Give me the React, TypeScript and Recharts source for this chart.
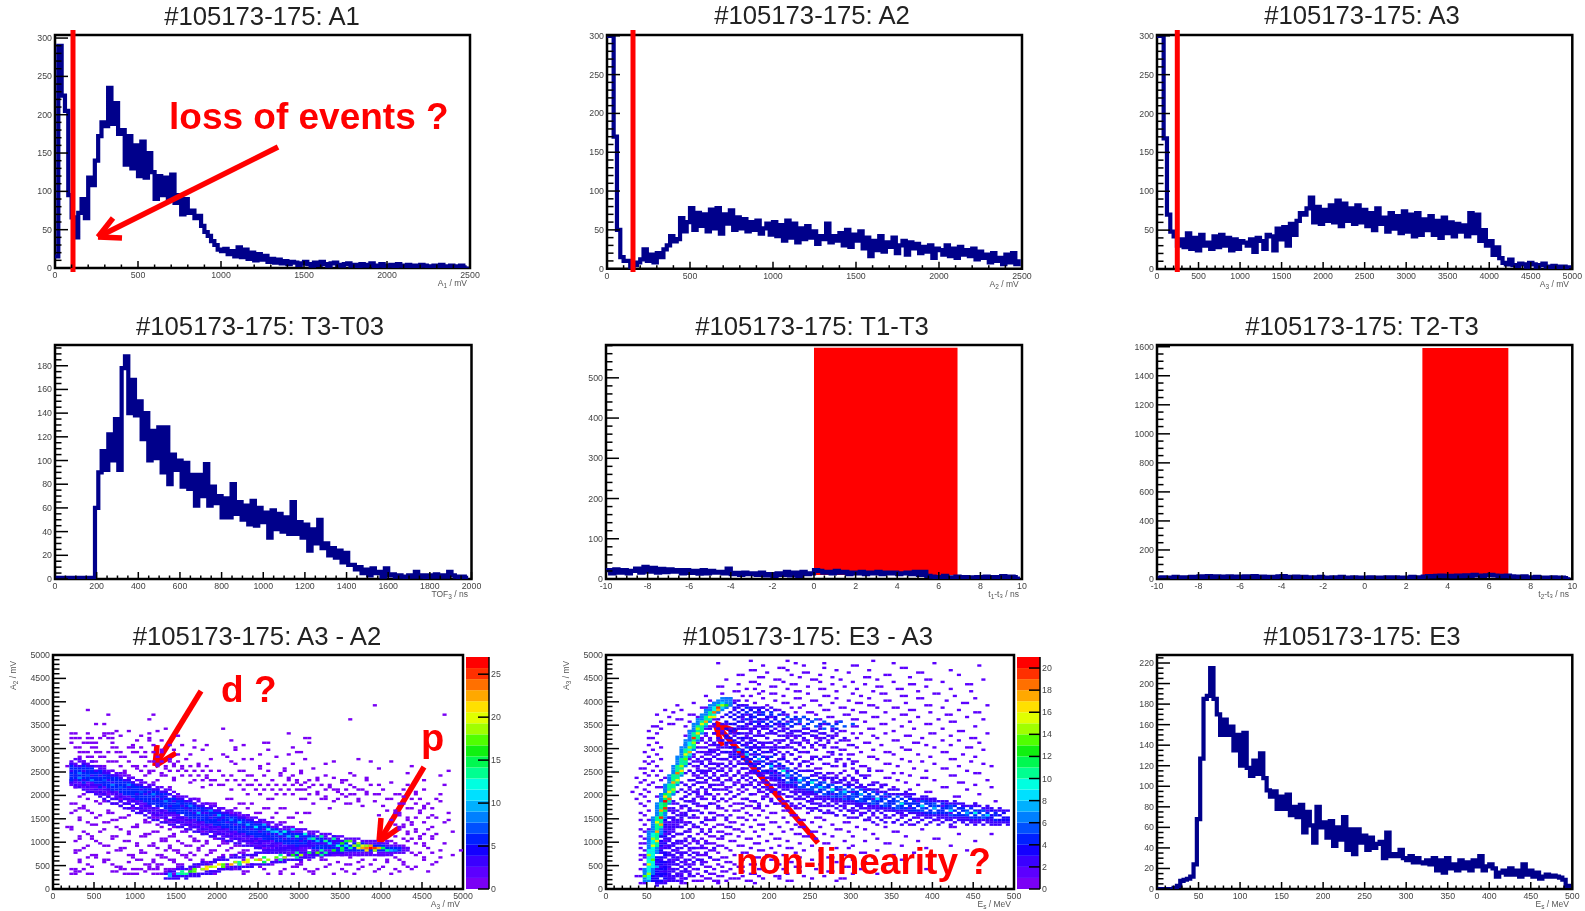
import React from 'react';
import { ComposedChart, Line, Scatter, XAxis, YAxis, ReferenceArea, ReferenceLine } from 'recharts';

// ---------- 1D histogram values ----------
const a1Counts = [15,290,225,205,95,66,40,72,90,65,118,108,140,172,190,185,235,188,215,175,180,135,172,130,160,120,165,118,150,125,90,120,95,118,90,122,85,95,70,90,72,75,65,68,55,47,42,35,30,24,22,25,18,22,15,27,14,24,12,20,10,18,11,16,8,12,7,11,6,9,5,8,7,4,6,8,5,3,7,4,8,5,3,6,7,4,3,5,6,3,4,2,5,3,4,6,2,3,5,2,3,4,2,5,3,1,4,2,3,1,4,3,2,1,3,2,4,1,2,3,1,2,3,1,2];
const a2Counts = [300,300,170,50,15,10,10,2,5,8,12,25,10,18,8,20,15,25,30,42,35,38,65,48,60,78,50,72,55,70,48,76,52,78,45,70,58,75,50,66,52,64,48,60,50,62,45,52,58,44,60,42,56,36,62,40,58,34,52,38,55,40,48,32,42,38,58,34,42,36,46,30,50,28,44,36,48,26,40,16,36,24,42,22,34,28,40,20,30,36,18,34,26,32,20,28,22,30,14,26,24,18,30,16,26,14,28,18,24,16,26,12,22,14,18,8,20,10,14,6,18,8,20,6,12];
const a3Counts = [300,300,168,70,48,42,30,38,28,46,26,40,24,44,30,34,26,42,28,44,30,40,24,38,26,36,34,30,38,22,40,36,26,44,42,24,52,38,54,30,58,44,62,72,70,78,92,60,80,58,76,62,82,60,88,55,84,62,78,58,82,60,76,55,72,50,78,58,66,48,72,52,68,46,74,48,70,42,72,44,64,50,68,44,62,40,66,46,60,42,58,48,56,42,72,46,70,36,50,30,36,18,28,14,8,6,12,5,4,7,6,3,8,6,3,5,7,3,2,4,3,1,3,2,1];
const t3Counts = [1,1,1,1,1,1,1,1,1,1,1,1,60,90,108,92,122,100,135,92,178,188,140,168,138,150,118,140,100,125,102,128,90,128,80,105,92,100,78,98,76,88,62,88,70,97,62,78,64,70,52,68,52,80,55,65,50,62,46,66,45,60,48,56,35,58,42,55,40,52,38,65,38,48,35,46,24,42,30,50,26,30,20,26,18,24,14,22,12,12,8,10,5,8,3,9,5,6,2,9,3,4,2,3,2,1,3,2,6,2,3,1,3,2,4,2,3,2,6,3,2,1,2,1,1];
const t1Counts = [22,14,24,16,22,14,20,26,16,30,18,28,16,25,17,24,18,22,14,22,15,20,13,22,14,20,16,18,14,26,12,15,10,16,12,14,10,16,9,12,8,14,10,18,9,16,8,18,12,14,22,20,16,18,14,20,16,18,12,16,14,18,12,16,14,18,12,16,14,16,12,14,16,12,18,10,18,8,6,3,5,8,4,3,6,4,5,3,4,5,3,6,4,5,3,7,4,6,5,6];
const t2Counts = [8,12,6,10,14,8,12,9,14,10,18,14,20,12,18,16,12,18,14,16,12,18,14,20,12,16,10,14,12,18,20,14,12,16,10,14,8,12,10,14,8,10,12,8,14,10,6,12,8,10,6,12,8,10,6,12,8,12,6,10,8,14,10,12,16,20,18,22,24,20,22,18,24,20,26,22,28,24,22,26,28,24,22,20,24,18,16,14,18,12,10,14,8,10,6,12,8,10,6,12];
const e3Counts = [0,0,0,0,0,1,3,8,9,10,12,24,68,127,185,188,215,185,170,150,165,150,158,135,150,120,152,118,110,125,112,132,108,96,90,95,78,90,78,92,72,80,70,82,55,75,62,45,80,60,65,50,66,42,60,48,70,38,58,34,58,45,52,38,50,40,44,46,30,55,32,34,32,38,30,28,32,26,30,26,25,28,24,30,18,28,16,30,20,24,18,28,20,26,18,28,22,32,18,22,24,20,12,16,18,14,20,14,18,12,24,14,18,12,16,10,12,14,12,13,12,11,9,3,1];

// ---------- A3 - A2 map. Sparse rows in 100 mV steps: [y step, x bins ...], one count in each cell ----------
const a3a2SparseRows: number[][] = [
 [39,78],[38,8],[37,13,24,95],[36,23,72],[35,10,12],[34,27,41],
 [33,4,5,8,12,13,14,23,57],[32,4,5,6,8,9,11,13,14,23,61,62],[31,4,7,8,9,10,14,51,52,62],
 [30,5,6,9,10,14,15,18,19,21,34,44,58],[29,6,7,8,10,11,13,15,16,19,20,22,24,26,59,60],
 [28,6,8,9,11,12,16,17,21,22,25,42,54],[27,7,9,10,13,14,15,18,23,24,26,28,30,43,68,77,82],
 [26,3,10,11,12,16,19,20,22,25,27,29,31,33,35,37,50,87],
 [25,11,14,17,21,23,24,28,30,32,34,36,38,40,45,46,52,56,60,96],
 [24,5,13,16,18,22,26,27,31,33,35,37,41,43,47,48,51,55,58,66,73,94],
 [23,4,25,29,34,36,38,39,42,44,46,49,53,57,59,62,64,70,71,76,90],
 [22,6,7,38,40,41,45,47,48,50,52,54,56,58,60,63,65,67,72,77,79,86,95],
 [21,43,46,49,51,53,55,57,59,60,61,66,68,69,71,74,75,80,85,90],
 [20,7,12,13,24,25,47,50,54,56,58,62,64,70,72,73,76,78,79,83,84,88,94],
 [19,8,16,17,27,34,35,42,43,52,53,60,61,65,66,69,74,81,82,87,89,93],
 [18,4,5,11,14,15,22,23,26,30,31,37,38,39,45,46,48,63,71,72,84,85,88,91],
 [17,6,7,18,19,20,28,32,33,36,40,41,44,47,51,52,55,56,67,86,87,90,92],
 [16,4,9,13,14,21,27,28,29,34,35,38,42,43,49,50,54,59,61,62,83,84,89,96],
 [15,6,10,16,17,24,25,30,31,37,40,41,45,46,47,53,57,58,86,88,91,93],
 [14,8,12,13,22,23,27,28,33,35,36,38,39,43,44,48,51,52,55,56,60,87,90,95],
 [13,3,4,15,19,20,26,29,30,34,37,41,42,47,49,50,54,58,84,85,92],
 [12,7,11,18,24,25,31,32,35,36,40,44,45,46,53,56,57,86,88,97],
 [11,6,9,14,15,21,22,28,29,33,38,39,43,51,52,55,61,62,83,89,92],
 [10,5,10,17,18,26,27,30,34,35,37,41,42,47,48,56,57,63,64,81,82,86],
 [9,8,12,13,20,23,24,28,32,33,36,40,44,45,49,50,53,54,59,66,67,71,78,85,90],
 [8,5,6,15,16,21,27,29,30,35,38,39,42,46,47,51,52,55,60,61,69,72,73,76,77,83,94,99],
 [7,9,10,18,19,25,26,31,32,34,37,41,43,44,48,49,57,58,63,64,68,70,74,79,80,88,97],
 [6,6,12,13,20,21,24,28,29,33,36,39,40,46,50,54,62,65,66,75,78,81,84,90],
 [5,8,14,22,23,25,26,30,31,35,37,38,42,45,47,48,53,59,60,67,71,72,77,85,92],
 [4,4,5,7,16,17,19,20,21,23,24,25,27,28,29,33,34,36,41,43,44,51,56,61,64,70,74,79,83,87],
 [3,4,5,8,9,17,18,19,20,24,25,26,27,28,29,30,31,39,46,52,55,58,63,68,73,82],
];
// the rows in between, in 50 mV bins: [y bin, x bins ...]
const a3a2SparseOdd: number[][] = [
 [7,5,6,14,15,22,27,28,33,38,39,46,47,55,62,63,71,78,84,91],[9,9,15,16,23,25,30,34,35,41,42,50,58,59,66,75,80,86,88],
 [11,6,12,18,24,29,36,37,44,53,54,60,69,74,81,85,93],[13,8,10,19,26,27,32,40,41,48,56,61,65,72,83,90,94],
 [15,5,13,21,22,30,33,38,45,46,52,64,77,82,87,89,92],[17,7,16,17,25,28,35,43,50,51,58,67,80,84,86,91],
 [19,11,20,24,31,37,41,42,48,55,62,79,83,88,90,95],[21,6,9,14,26,27,34,39,45,52,53,60,85,87,89,92],
 [23,8,18,22,23,29,36,44,47,49,56,86,90,93],[25,4,12,16,28,32,38,42,50,54,58,84,88,91],
 [27,9,10,20,25,33,35,40,46,52,83,85,87],[29,6,14,15,22,27,31,37,44,48,82,86,96],
 [31,11,18,24,30,34,41,45,47,79,84,92],[33,5,8,13,21,26,29,36,43,81,83,89],
 [35,7,16,19,23,28,33,39,75,80,90],[37,10,12,25,27,31,68,74,78,94],[39,6,15,20,26,30,66,71,85],
 [41,8,14,22,64,69,76,88],[43,5,11,18,28,36,62,67,73],[45,9,12,24,33,59,61,70,82],
 [47,13,19,29,37,57,64,68,76],[49,17,23,26,55,60,72,86],[51,20,27,31,50,56,63,79],
 [53,25,29,35,44,52,58,66],[55,28,32,38,46,48,61,74],[57,30,33,41,50,57],[59,26,29,36,44,52],
 [61,19,24,28,31,37,46],[63,20,23,26,34,43],[65,12,16,21,30],[67,15,18,25],
];
// [x bin, y bins ...] with about two counts: the fringe of the upper band
const a3a2Fringe: number[][] = [
 [4,44,45,53,54],[5,43,45,46,53,55],[6,44,45,52,54,55],[7,43,44,46,53,54],[8,42,44,45,52,53],[9,42,43,45,52,54],[10,41,43,44,50,52],[11,40,42,44,51,52],[12,40,41,43,49,51],[13,39,41,42,49,50],[14,38,40,41,48,50],[15,38,39,41,48,49],[16,37,39,40,47,49],[17,36,38,39,46,48],[18,36,37,39,46,47],[19,35,37,38,45,47],
 [20,34,36,37,44,46],[21,33,35,36,45,46],[22,33,34,36,43,45],[23,32,34,35,43,44],[24,31,33,34,42,44],[25,31,32,34,42,43],[26,30,32,33,41,43],[27,30,31,33,41,42],[28,29,31,32,40,42],[29,28,30,31,39,41],[30,28,29,31,38,40],[31,27,29,30,38,39],[32,27,28,30,37,39],[33,26,28,29,37,38],[34,26,27,29,36,38],[35,25,27,28,35,37],
 [36,25,26,28,35,36],[37,24,26,27,34,36],[38,24,25,27,34,35],[39,23,25,26,33,35],[40,23,24,26,33,34],[41,22,24,25,32,34],[42,22,23,25,32,33],[43,21,23,24,31,33],[44,21,22,24,31,32],[45,20,22,23,30,32],[46,20,21,23,30,31],[47,19,21,22,29,31],[48,19,20,22,29,30],[49,18,20,21,28,30],[50,18,19,21,28,29],[51,18,19,20,27,29],
 [52,17,19,20,27,28],[53,17,18,20,26,28],[54,16,18,19,26,27],[55,16,17,19,25,27],[56,16,17,18,25,26],[57,15,17,18,25,26],[58,15,16,18,24,25],[59,15,16,17,24,25],[60,14,16,17,24,25],[61,14,16,17,23,25],[62,14,15,17,23,24],[63,14,15,16,23,24],[64,14,15,16,22,24],[65,14,15,16,22,23],[66,14,15,16,22,23],[67,14,15,16,21,23],
 [68,14,15,21,22],[69,14,15,21,22],[70,14,15,20,22],[71,14,15,20,21],[72,14,15,20,21],[73,14,15,20,21],[74,14,15,19,21],[75,14,15,20],[76,14,15,19,20],[77,14,15,19,20],[78,14,19,20],[79,14,15,19],[80,14,15,19],[81,14,15,18,19],[82,14,15,18],[83,15,16,18],[84,15,18],[85,15,16,17],[86,16,17],
];
// [x bin, y bins ...] with about three counts: widening the band below and above the core
const a3a2Mid: number[][] = [
 [4,45,50,53],[5,44,46,52],[6,43,49,52],[7,42,44,46,50,53],[8,41,43,52],[9,41,44,48,52],[10,40,42,44,50],[11,39,41,44,48],[12,38,40,42,49,50],[13,37,39,42,46,49],[14,36,38,41,45,48],[15,36,38,40,48],[16,35,37,39,43,47],[17,34,36,38,46],[18,34,36,38,43,46],[19,33,35,37,45],
 [20,32,34,36,40,44],[21,32,34,37,42,44],[22,31,33,35,40,43],[23,30,33,35,41,43],[24,29,32,34,38,42],[25,29,31,33,39,42],[26,28,31,33,38,41],[27,28,30,32,39,41],[28,27,29,32,35,40],[29,27,29,32,37,39],[30,26,28,30,36,38],[31,26,28,30,35,38],[32,25,27,29,34,37],[33,25,27,29,33,37],[34,24,26,28,32,36],[35,24,26,28,33,35],
 [36,23,25,27,32,35],[37,23,25,27,32,34],[38,22,24,26,30,34],[39,22,24,26,31,33],[40,21,23,25,29,33],[41,21,23,25,30,32],[42,20,22,24,28,32],[43,20,22,24,29,31],[44,19,21,23,27,31],[45,19,21,23,28,30],[46,18,20,22,26,30],[47,18,20,22,27,29],[48,18,20,21,25,29],[49,17,19,21,26,28],[50,17,19,20,24,28],[51,16,18,20,25],
 [52,16,18,20,23],[53,16,18,19,24],[54,15,17,19,23],[55,15,17,18,22],[56,15,17,21],[57,14,16,18,22],[58,14,16,21],[59,14,16,22],[60,15,20],[61,15,21],[62,15,20],[63,15,19],[64,15,20],[65,15,19],[66,15,21],[67,15,18],[68,15,22],[69,15,17],
];
// [x bin, y bins ...] with about six counts: the core of the upper band
const a3a2Core: number[][] = [
 [4,46,47,48,49,51,52],[5,47,48,49,50,51],[6,46,47,48,50,51],[7,45,47,48,49,51,52],[8,46,47,48,49,50,51],[9,46,47,49,50,51],[10,45,46,47,48,49],[11,43,45,46,47,49,50],[12,44,45,46,47,48],[13,43,44,45,47,48],[14,42,43,44,46,47],[15,42,43,44,45,46,47],[16,41,42,44,45,46],[17,40,41,42,43,44,45],[18,40,41,42,44,45],[19,39,40,41,42,43,44],
 [20,38,39,41,42,43],[21,38,39,40,41,43],[22,37,38,39,41,42],[23,36,37,38,39,40,42],[24,36,37,39,40,41],[25,35,36,37,38,40,41],[26,35,36,37,39,40],[27,34,35,36,37,38,40],[28,33,34,36,37,38],[29,33,34,35,36,38],[30,32,33,34,35,37],[31,32,33,34,36,37],[32,31,32,33,35,36],[33,30,31,32,34,35,36],[34,30,31,33,34,35],[35,29,30,31,32,34],
 [36,29,30,31,33,34],[37,28,29,30,31,33],[38,28,29,31,32,33],[39,27,28,29,30,32],[40,27,28,30,31,32],[41,26,27,28,29,31],[42,26,27,29,30,31],[43,25,26,27,28,30],[44,25,26,28,29,30],[45,24,25,26,27,29],[46,24,25,27,28,29],[47,23,24,25,26,28],[48,23,24,26,27,28],[49,22,23,24,25,27],[50,22,23,25,26,27],[51,21,22,23,24,26],
 [52,21,22,24,25,26],[53,21,22,23,25],[54,20,21,22,24,25],[55,20,21,23,24],[56,19,20,22,23,24],[57,19,20,21,23,24],[58,19,20,22,23],[59,18,19,20,21,23],[60,18,19,21,22,23],[61,18,19,20,22],[62,18,19,21,22],[63,17,18,20,21,22],[64,17,18,19,21],[65,17,18,20,21],[66,17,18,19,20],[67,17,19,20],
 [68,16,17,18,19,20],[69,16,18,19,20],[70,16,17,18,19],[71,16,17,18,19],[72,16,17,18],[73,16,17,18,19],[74,16,17,18],[75,16,17,18,19],[76,16,18],[77,16,18],[78,16,18],[79,16,17,18],[80,16,17,18],[81,16,17],[82,16,17],[83,16,17],[84,16,17],
];
// [x bin, y bins ...] with about three counts: the fringe of the lower band
const a3a2LowerFringe: number[][] = [
 [27,4,6],[28,4,6,7],[29,4,5,7],[30,4,5,8],[31,5,8,9],[32,4,5,8],[33,5,6,9],[34,5,6,9,10],[35,5,6,10],[36,6,10,11],[37,6,7,10],[38,6,7,11],[39,7,11,12],[40,7,8,12],[41,8,12,13],[42,8,12],[43,8,9,13],[44,9,13,14],[45,8,9,13],[46,9,13,14],[47,9,14],[48,9,10,14],[49,10,14,15],[50,10,15],[51,10,11,15],[52,10,15,16],[53,11,15,16],[54,11,16],[55,11,12,16],[56,11,12,16,17],[57,12,17],[58,12,17,18],[59,12,13,17],[60,12,13,18],[61,13,18],[62,13,18,19],[63,13,14,18],[64,14,19],[65,14,19],[66,14,19],[67,14,19],[68,15,19,20],[69,15,20],[70,15,20],
];
// [count, x bin, y bins ...]: the brighter strands
const a3a2Bright: number[][] = [
 [8,6,47,49],[7,8,48],[8,9,46],[7,12,46],[8,14,44],[7,16,43],[8,18,44],[7,21,41],[8,24,40],[8,27,37],[7,30,36],[8,33,35],[9,35,32],[8,38,33],[9,40,31],[8,43,29],[10,45,28],[9,47,27],[11,49,26],[10,51,27],[12,52,25],[9,53,24],[11,54,24],[9,55,23],[12,56,24],[11,58,25],[9,57,22],[13,59,22],[12,61,23],[9,62,21],[13,63,21],[10,64,20],[14,65,22],[13,66,20],[11,67,19],[14,68,21],[12,69,18],[16,70,19],[15,71,20],[11,71,18],[17,72,20],[13,72,17],[18,73,18],[19,74,19],[15,74,18],[22,75,17],[20,75,18],[24,76,17],[21,76,16],[27,77,17],[22,77,18],[25,78,17],[22,79,17],[19,76,18],[20,74,17],[18,78,16],[15,80,17],[13,81,16],[10,82,16],[8,83,16],
 [9,28,5,6],[11,30,6],[13,31,6,7],[14,32,6],[16,33,7],[17,34,7,8],[19,36,8],[21,37,8,9],[18,38,9],[20,39,9],[21,40,10],[17,41,10,9],[22,43,10],[19,44,11],[14,45,10,11],[21,46,11],[20,47,11,12],[18,49,12],[22,50,12],[15,51,11,13],[19,52,12],[17,54,13],[14,55,12,14],[19,56,13],[16,58,14],[14,59,13,15],[18,60,14],[15,62,15],[17,64,15],[13,65,16,14],[14,66,15],[16,68,16],[15,70,16,17],
];

// ---------- E3 - A3 map. Sparse rows: [y bin, x bins ...], one count in each cell ----------
const e3a3SparseRows: number[][] = [
 [2,8,9,18,19,27,36],
 [3,14,15,21,22,23,26,27,29,34,35,44,45,56],
 [4,15,16,18,19,24,25,30,31,32,38,42,50,57,58],
 [5,7,8,20,23,27,28,33,37,41,42,48,53],
 [6,13,14,17,18,22,25,26,31,35,36,44,60,66],
 [7,9,14,19,20,24,28,29,33,39,40,47,54,55],
 [8,8,15,16,21,22,26,30,37,38,43,51,62,78],
 [9,13,14,18,24,25,28,32,33,46,47,58,59],
 [10,9,10,17,20,21,27,31,35,36,42,52,68,69],
 [11,14,15,19,23,24,29,30,38,44,45,56,63],
 [12,8,13,16,17,22,26,33,40,41,50,60,72,73],
 [13,9,18,21,25,28,29,36,37,47,54,55,65],
 [14,8,9,15,16,23,24,31,39,43,58,70,80],
 [15,13,14,18,19,22,27,33,34,41,46,62,63,75],
 [16,9,16,17,20,25,26,30,37,38,48,52,66,88],
 [17,8,13,21,22,24,29,35,40,44,45,56,59,78],
 [18,14,15,19,23,27,28,32,33,42,50,60,72,84],
 [19,8,9,16,18,20,25,26,36,37,47,53,54,68,69],
 [20,14,17,21,22,24,30,31,39,44,58,63,76,90],
 [21,9,10,15,19,23,27,28,34,35,41,42,51,66,80,81],
 [22,8,13,16,20,25,26,32,37,48,49,55,60,73],
 [23,14,17,18,22,24,29,30,40,46,47,53,65,86,94],
 [24,9,15,19,20,27,28,33,36,43,50,51,59,70,71],
 [25,8,10,14,16,23,25,31,32,38,45,56,57,63,77],
 [26,13,18,21,22,26,29,35,42,47,48,52,61,68,84,85],
 [27,9,15,17,24,27,28,33,37,38,46,55,66,74],
 [28,14,16,19,20,23,30,31,40,41,44,50,58,59,70,90],
 [29,8,10,18,25,26,29,34,36,47,48,53,63,64,80,81],
 [30,15,16,21,22,24,32,33,39,43,51,52,60,68,76,93],
 [31,9,13,19,27,28,30,35,37,45,46,56,65,72,73,88],
 [32,8,14,18,23,25,26,34,40,41,49,54,55,62,78,84],
 [33,10,16,20,21,29,31,32,38,43,44,52,59,60,70,92,93],
 [34,13,15,18,24,27,28,33,36,37,47,50,51,64,67,74,86],
 [35,9,19,22,23,30,34,35,39,45,46,54,58,66,82,83],
 [36,8,14,16,25,26,31,32,37,41,42,52,61,62,72,90],
 [37,10,13,20,21,27,29,35,36,43,49,50,56,69,76,77,95],
 [38,7,15,18,24,28,30,33,34,40,46,47,53,64,65,80],
 [39,9,12,19,22,23,26,31,38,39,44,51,58,59,68,85,86],
 [40,8,13,16,25,27,29,35,36,42,48,49,55,62,72,73,91],
 [41,6,10,21,22,24,30,33,37,38,45,46,52,60,66,78,79],
 [42,9,14,20,26,28,32,34,40,41,50,56,57,64,74,88],
 [43,7,12,13,23,25,29,30,36,39,43,47,54,61,62,70,82,83,94],
 [44,10,19,21,27,28,33,35,42,44,51,52,59,67,68,76,90],
 [45,8,11,22,24,31,32,37,38,46,49,55,56,65,73,86,87],
 [46,9,13,20,26,29,34,36,40,41,48,53,60,61,71,80,93],
 [47,7,14,23,25,27,30,35,39,44,45,52,58,68,69,77,78],
 [48,10,12,21,22,28,31,33,37,42,47,50,56,63,64,74,84,85],
 [49,9,24,26,29,34,35,38,41,46,54,55,61,70,72,90,91],
 [50,11,13,20,23,27,32,36,39,40,44,49,58,66,67,78,88],
 [51,8,9,22,25,28,30,33,37,43,51,52,60,64,75,82,83],
 [52,12,21,24,29,31,35,38,41,42,47,56,62,63,71,86,94],
 [53,10,19,23,26,27,33,36,39,45,50,54,58,68,69,80,92],
 [54,9,11,22,25,30,32,37,40,44,48,49,60,61,74,77,89],
 [55,13,20,24,28,29,34,35,42,46,52,56,57,66,72,84,85],
 [56,10,21,23,26,31,38,39,43,47,50,53,64,65,79,90],
 [57,12,19,25,27,30,33,36,41,45,55,59,60,70,76,87],
 [58,9,22,24,28,29,34,38,42,48,49,54,62,68,69,82,83],
 [59,11,21,26,31,32,37,40,46,51,57,58,65,73,74,92],
 [60,13,20,23,27,30,35,36,43,44,50,55,61,72,80,88,89],
 [61,10,19,25,29,33,34,38,41,47,52,53,59,67,78,84],
 [62,12,22,24,31,32,37,40,45,49,56,63,64,75,76,91],
 [63,20,27,28,35,36,42,43,48,54,58,59,70,71,82,86],
 [64,10,11,23,25,30,33,39,46,51,52,61,66,77,89,90],
 [65,19,24,29,34,38,44,45,50,55,56,65,73,74,84],
 [66,12,22,26,31,32,37,41,48,53,60,62,68,79,80,93],
 [67,10,20,21,28,35,40,46,47,51,57,58,70,86,87],
 [68,13,24,27,30,33,36,43,49,55,64,65,75,82],
 [69,11,12,19,25,26,34,38,39,45,52,60,61,72,90],
 [70,15,16,22,29,31,41,42,47,53,54,67,68,78,79],
 [71,13,20,24,35,37,44,50,56,57,63,74,84,85],
 [72,17,18,26,33,38,46,47,52,60,61,70,81,92],
 [73,15,22,36,39,40,48,54,55,65,66,76,88],
 [74,12,20,21,34,43,44,51,58,59,72,73,83,84],
 [75,16,27,37,46,49,50,62,63,68,79,90,91],
 [76,14,18,35,41,42,53,54,60,74,75,86],
 [77,23,24,38,45,47,57,58,66,70,71,82],
 [78,17,28,33,39,48,52,64,65,78,79,93],
 [79,21,26,36,43,44,55,61,62,73,87,88],
 [80,25,31,34,41,50,51,59,68,69,83],
 [81,29,30,38,46,47,56,64,76,77,90],
 [82,24,33,35,43,53,54,62,72,73,85],
 [83,28,37,40,41,49,60,67,68,80,81],
 [84,31,32,38,46,47,56,65,76,89],
 [85,34,36,44,52,53,61,71,72,84],
 [86,27,28,40,41,49,58,66,67,78],
 [87,32,37,45,46,55,63,74,75,88,89],
 [88,35,36,43,52,60,70,82],
 [89,29,41,42,50,51,57,66,78,79,92],
 [90,37,38,47,55,63,64,74],
 [91,32,33,45,52,68,69,86],
 [92,39,48,49,59,76,77],
 [93,35,36,44,56,64,84],
 [94,42,43,53,72,73],
 [95,38,48,60,61,91],
 [96,27,46,53,70,80],
 [97,35,44,65],
];
// [x bin, count, y bins ...]: the blue cloud beside the main curve and the falling band
const e3a3Blue: number[][] = [
 [11,3,3,4,5,6,7],[12,3,3,4,6,7,9,10,12,13,15],[13,3,3,5,6,8,10,11,13,16,18,20,22],[14,3,4,6,8,9,11,14,15,19,22,24,27,29],[15,2,3,5,7,10,12,15,18,21,23,26,30,33],[16,2,4,8,11,14,19,24,27,30,34,37],[17,2,3,6,13,17,20,26,29,33,36,41],[18,2,5,9,15,23,28,31,38,42,45],[19,2,8,12,20,32,35,39,44,49],[20,2,6,14,25,30,34,40,46,50,53],
 [21,2,17,27,38,44,49,54,57],[22,2,12,33,42,47,52,55,60],[23,2,10,28,45,50,54,58,63],[24,2,15,40,48,52,57,60,66],[25,2,36,47,55,59,63,68],[26,2,44,53,58,62,66,70],[27,2,50,57,61,64,68,72],[28,2,48,55,60,66,70,73],[29,3,58,62,65,68,71,74],[30,3,56,60,64,67,70,73,75],
 [31,3,57,60,63,68,70,72,74,77],[32,3,56,59,62,66,71,73,75,78],[33,3,55,58,61,64,69,71,74,76],[34,4,54,56,58,60,72,75,77],[35,3,53,55,59,62,70,73,74,76],[36,4,52,54,56,58,71,73,75],[37,3,51,53,57,60,70,72,74,76],[38,4,50,52,54,56,71,74,75],[39,3,50,53,55,58,70,72,73],[40,4,49,51,53,56,69,71,74,75],
 [41,3,48,50,54,57,70,72,73],[42,4,47,49,51,53,71,74],[43,3,46,48,50,52,55,70,72,75],[44,5,45,47,49,51,70,73],[45,4,45,46,48,50,69,71,72],[46,4,44,46,47,49,70,73],[47,5,43,45,46,48,71,72],[48,5,43,44,46,47,69,73],[49,4,42,44,45,47,70,72],[50,5,42,43,45,46,71],
 [51,5,41,43,44,46,69,72],[52,4,41,42,44,45,70],[53,5,40,42,43,45,68,71],[54,4,40,41,43,44,70],[55,5,39,41,42,44,69],[56,4,39,40,42,43,68,70],[57,5,39,40,41,43,71],[58,5,38,40,41,42,69],[59,4,38,39,41,43],[60,5,38,39,40,42,70],
 [61,4,37,39,40,41],[62,5,37,38,40,42],[63,4,37,38,39,41],[64,4,36,38,39,40],[65,5,36,37,39,41],[66,4,36,37,38,40],[67,4,35,37,38,39],[68,5,35,36,38,40],[69,4,35,36,37,39],[70,4,34,36,37,38],
 [71,5,34,35,37,39],[72,4,34,35,36,38],[73,4,34,36,37],[74,4,33,35,36,38],[75,4,33,34,36,37],[76,4,33,35,36],[77,5,33,34,35,37],[78,4,32,34,36,37],[79,4,32,33,35,36],[80,5,32,34,35,36],
 [81,4,32,33,35],[82,4,32,33,34,36],[83,4,32,34,35],[84,5,31,33,34,35],[85,4,31,33,35],[86,4,31,32,34],[87,4,31,33,34],[88,5,31,32,33],[89,4,30,32,34],[90,4,30,31,33],[91,4,30,32,33],[92,5,30,31,33],[93,4,30,32],[94,3,30,31,33],[95,4,29,31,32],[96,3,29,31],[97,3,29,30,32],[98,3,29,30],
];
// [x bin, y bins ...] with about two counts: the haze around the falling band and the flat upper branch
const e3a3Haze: number[][] = [
 [12,1,2,5,8,11],[13,2,7,9,12,15,19],[14,2,5,7,10,13,17,21,26],[15,4,6,9,11,14,17,20,25,28],[16,3,5,7,10,13,16,18,22,26,29,32],[17,5,8,10,12,15,19,23,28,31],[18,3,7,11,14,17,20,26,30,35],[19,4,7,10,15,18,24,27,31,37,41],[20,9,12,17,22,28,33,37,43],[21,5,11,15,21,31,36,41,46],
 [22,8,14,19,26,36,40,45,50],[23,12,17,24,32,38,43,49,53],[24,7,19,29,35,42,46,50,55],[25,13,24,32,40,44,50,53,58],[26,17,30,38,42,48,51,56,61],[27,12,35,42,46,52,55,59],[28,22,38,45,50,53,58,63],[29,30,42,48,52,55,60,64,77],[30,26,41,46,50,53,58,62,66,78],
 [31,39,44,48,52,55,58,65,67,76,79],[32,40,46,49,53,57,64,68,69,77,80],[33,36,43,47,51,53,59,63,66,68,73,78],[34,38,44,48,51,53,62,64,66,68,70,78],[35,40,45,47,50,57,60,64,66,68,72,77],[36,37,43,46,49,50,60,61,63,65,68,69,77],[37,35,42,44,48,49,55,59,62,65,67,69,77],[38,38,43,46,48,58,60,62,65,68,69,77],[39,40,42,45,47,49,60,62,64,66,68,76],[40,37,41,44,47,48,58,60,62,66,67,77],
 [41,36,42,44,46,47,52,59,60,63,66,68,76],[42,38,41,43,45,46,55,60,62,65,67,69],[43,35,40,42,44,45,57,60,63,65,67,69],[44,37,39,42,43,44,54,58,61,64,66,68],[45,36,39,41,43,44,53,57,60,63,66,67],[46,34,38,40,42,43,51,55,59,62,65,67],[47,36,39,41,42,50,53,58,62,65,67],[48,35,38,40,41,42,50,54,60,64,66,68],[49,34,37,39,41,50,52,58,63,66,68],[50,33,36,38,40,41,48,50,55,61,65,67],
 [51,34,36,38,40,48,49,56,62,65,67],[52,33,35,38,39,47,49,55,63,66,68],[53,32,35,37,39,47,48,53,60,64,66],[54,33,36,38,39,47,49,56,62,65],[55,32,35,37,38,46,47,52,58,64,67],[56,31,34,36,38,45,47,54,60,66],[57,33,35,37,38,45,46,49,57,63],[58,31,34,36,37,44,46,52,64],[59,30,33,36,37,44,45,48,55],[60,32,34,36,37,44,47,53,61],
 [61,30,33,35,36,43,45,50],[62,31,34,35,36,44,48],[63,29,32,34,36,42,43,47],[64,30,33,35,42,44,50],[65,28,32,34,35,42,44],[66,30,33,34,42,45],[67,29,32,34,41,43],[68,28,31,33,34,41,44],[69,30,33,34,40,42],[70,28,31,33,40,42],
 [71,29,32,33,40,42],[72,27,30,32,33,40],[73,28,31,33,39,41],[74,29,32,39,40],[75,27,30,32,38,40],[76,28,31,32,38],[77,29,31,32,38,39],[78,27,30,31,38,39],[79,28,30,31,37,38],[80,29,31,37,38],
 [81,27,30,31,37],[82,28,30,31,37],[83,29,30,31,36,37],[84,27,29,30,36],[85,28,30,36,37],[86,29,30,36],[87,28,29,30,35,36],[88,27,29,30,35],[89,28,29,35],[90,27,29,35,36],[91,28,29,35],[92,27,29,34],[93,28,29,34,35],[94,27,28,29,34],[95,27,28,33],[96,27,28,33,34],[97,28,33],[98,27,28,33],
];
// [x bin, low y bin, high y bin]: the blue-green edge of the main curve
const e3a3EdgeRuns: number[][] = [
 [9,3,8],[10,3,24],[11,6,30],[12,15,36],[13,23,40],[14,30,44],[15,36,48],[16,40,52],[17,44,56],[18,48,60],[19,52,63],[20,56,67],[21,59,70],[22,63,72],[23,66,74],[24,69,76],[25,71,78],[26,73,79],[27,75,80],[28,76,81],[29,77,81],[30,78,81],
];
// [x bin, low y bin, high y bin, count]: the bright main curve
const e3a3MainRuns: number[][] = [
 [10,4,16,9],[11,9,23,9],[12,18,30,10],[13,26,36,10],[14,33,40,11],[15,37,44,10],[16,41,48,10],[17,45,52,10],[18,49,55,10],[19,53,59,10],[20,57,62,9],[21,60,66,10],[22,64,69,10],[23,67,71,10],[24,70,73,10],[25,72,75,10],[26,74,77,9],[27,76,78,10],[28,77,79,8],
];
// [count, x bin, y bin]
const e3a3Speckles: number[][] = [
 [13,9,5],[14,10,6],[15,10,10],[14,10,14],[13,11,12],[15,11,18],[14,11,21],[16,12,20],[17,12,24],[15,12,28],[17,13,27],[19,13,30],[17,13,33],[19,14,34],[20,14,37],[16,14,39],[18,15,38],[16,15,41],[14,16,42],[17,16,45],[15,17,46],[18,17,49],[14,18,52],[16,18,50],[13,19,55],[15,19,57],[14,20,60],[17,20,58],[19,21,64],[14,21,62],[16,22,66],[14,22,68],[15,23,70],[17,24,71],[16,25,73],[18,26,75],[15,26,73],[19,27,77],[17,27,76],[14,28,78],[12,29,78],
 [7,32,59],[8,34,57],[7,37,55],[8,40,52],[9,43,50],[7,44,48],[8,47,46],[9,50,45],[8,52,43],[9,55,42],[8,58,41],[7,62,40],[8,66,38],[9,72,36],[8,77,35],[7,80,34],[8,84,33],[7,88,32],[9,90,32],[8,93,31],[7,12,9],
];

// ---------- ticks and palette ----------
const a1Major = [0,500,1000,1500,2000,2500];
const a3Major = [0,500,1000,1500,2000,2500,3000,3500,4000,4500,5000];
const tofMajor = [0,200,400,600,800,1000,1200,1400,1600,1800,2000];
const dtMajor = [-10,-8,-6,-4,-2,0,2,4,6,8,10];
const e3Major = [0,50,100,150,200,250,300,350,400,450,500];
const y300Major = [0,50,100,150,200,250,300];
const t3YMajor = [0,20,40,60,80,100,120,140,160,180];
const t1YMajor = [0,100,200,300,400,500];
const t2YMajor = [0,200,400,600,800,1000,1200,1400,1600];
const e3YMajor = [0,20,40,60,80,100,120,140,160,180,200,220];
const paletteColors = ['#7a00f5','#5c00ff','#3a00ff','#1400ff','#0020ff','#0050ff','#0080ff','#00b0ff','#00e0ff','#00ffe0','#00ff90','#00f850','#10f010','#50ff00','#a0ff00','#e0ff00','#ffe000','#ffa800','#ff7000','#ff3000','#ff0000'];

type Frame = { l: number; t: number; w: number; h: number; xd: [number, number]; yd: [number, number] };
const ML = 46, MR = 14, MT = 10, MB = 24;

function seq(a: number, b: number, s: number) {
  const o: number[] = [];
  const n = Math.round((b - a) / s);
  for (let i = 0; i <= n; i++) o.push(Math.round((a + i * s) * 1000) / 1000);
  return o;
}
const hist = (vals: number[], start: number, bin: number) => vals.map((y, i) => ({ x: start + i * bin, y }));
const px2d = (f: Frame, p: number[]) => ({
  x: f.xd[0] + ((p[0] - f.l) / f.w) * (f.xd[1] - f.xd[0]),
  y: f.yd[0] + ((f.t + f.h - p[1]) / f.h) * (f.yd[1] - f.yd[0]),
});

function Plot(props: {
  f: Frame; title: string; titleX: number; titleY: number; xMajor: number[]; xMinor: number; yMajor: number[]; yMinor: number;
  data?: { x: number; y: number }[]; cells?: { x: number; y: number; n: number }[]; cellW?: number; cellH?: number; zMax?: number;
  redBox?: number[]; redLine?: number[][]; arrows?: number[][][]; xTitle: React.ReactNode; yTitle?: React.ReactNode;
}) {
  const { f, xMajor, yMajor } = props;
  const xTicks = seq(f.xd[0], f.xd[1], props.xMinor);
  const yTicks = seq(f.yd[0], Math.floor(f.yd[1] / props.yMinor) * props.yMinor, props.yMinor);
  const bottom = MT + f.h;
  const xTick = (p: any) => {
    const major = xMajor.includes(p.payload.value);
    return (
      <g>
        <line x1={p.x} x2={p.x} y1={bottom} y2={bottom - (major ? 7 : 3.5)} stroke="#000" strokeWidth={1.5} />
        {major ? <text x={p.x} y={bottom + 10} textAnchor="middle" fontSize={8.8} fill="#444" fontFamily="Liberation Sans">{p.payload.value}</text> : null}
      </g>
    );
  };
  const yTick = (p: any) => {
    const major = yMajor.includes(p.payload.value);
    return (
      <g>
        <line x1={ML} x2={ML + (major ? 13 : 6.5)} y1={p.y} y2={p.y} stroke="#000" strokeWidth={1.5} />
        {major ? <text x={ML - 3} y={p.y + 3} textAnchor="end" fontSize={8.8} fill="#444" fontFamily="Liberation Sans">{p.payload.value}</text> : null}
      </g>
    );
  };
  const cellShape = (p: any) => (
    <rect x={p.cx - (props.cellW as number) / 2} y={p.cy - (props.cellH as number) / 2} width={props.cellW} height={props.cellH}
      fill={paletteColors[Math.min(20, Math.floor((p.payload.n / (props.zMax as number)) * 21))]} />
  );
  const seg = (a: number[], b: number[], w: number, k: string) => (
    <ReferenceLine key={k} segment={[px2d(f, a), px2d(f, b)]} stroke="#ff0000" strokeWidth={w} ifOverflow="visible" />
  );
  return (
    <>
      <div style={{ position: 'absolute', left: props.titleX - 200, width: 400, top: props.titleY - 16, height: 32, lineHeight: '32px', textAlign: 'center', fontFamily: 'Liberation Sans', fontSize: 25.7, color: '#222' }}>{props.title}</div>
      <div style={{ position: 'absolute', left: f.l - ML, top: f.t - MT }}>
        <ComposedChart width={f.w + ML + MR} height={f.h + MT + MB} margin={{ top: MT, left: ML - 1, right: MR, bottom: MB - 1 }} data={props.data}>
          <XAxis type="number" dataKey="x" domain={f.xd} ticks={xTicks} interval={0} height={1} axisLine={false} tickLine={false} tick={xTick} allowDataOverflow />
          <YAxis type="number" dataKey="y" domain={f.yd} ticks={yTicks} interval={0} width={1} axisLine={false} tickLine={false} tick={yTick} allowDataOverflow />
          {props.data ? <Line type="stepAfter" dataKey="y" stroke="#00008b" strokeWidth={4.2} strokeLinejoin="miter" dot={false} isAnimationActive={false} /> : null}
          {props.cells ? <Scatter data={props.cells} shape={cellShape} isAnimationActive={false} /> : null}
          {props.redBox ? <ReferenceArea x1={props.redBox[0]} x2={props.redBox[1]} y1={props.redBox[2]} y2={props.redBox[3]} fill="#ff0000" fillOpacity={1} stroke="none" /> : null}
          <ReferenceArea x1={f.xd[0]} x2={f.xd[1]} y1={f.yd[0]} y2={f.yd[1]} fill="none" stroke="#000" strokeWidth={2.5} ifOverflow="visible" />
          {props.redLine ? seg(props.redLine[0], props.redLine[1], 5, 'r') : null}
          {(props.arrows ?? []).flatMap((ar, i) => [seg(ar[0], ar[1], 5.5, `a${i}`), seg(ar[2], ar[1], 5.5, `b${i}`), seg(ar[3], ar[1], 5.5, `c${i}`)])}
        </ComposedChart>
      </div>
      <div style={{ position: 'absolute', right: 1585 - (f.l + f.w) + 3, top: f.t + f.h + 10, height: 11, fontFamily: 'Liberation Sans', fontSize: 8.5, color: '#555', whiteSpace: 'nowrap', lineHeight: '11px' }}>{props.xTitle}</div>
      {props.yTitle ? (
        <div style={{ position: 'absolute', left: f.l - 46, top: f.t + 35, transformOrigin: 'left top', transform: 'rotate(-90deg)', fontFamily: 'Liberation Sans', fontSize: 8.5, color: '#555', whiteSpace: 'nowrap', lineHeight: '12px' }}>{props.yTitle}</div>
      ) : null}
    </>
  );
}

function Palette({ l, t, w, h, zMax, major }: { l: number; t: number; w: number; h: number; zMax: number; major: number[] }) {
  const step = zMax / paletteColors.length;
  const tick = (p: any) => (
    <g>
      <line x1={w - 11} x2={w} y1={p.y} y2={p.y} stroke="#000" strokeWidth={1.5} />
      <text x={w + 2} y={p.y + 3} fontSize={8.8} fill="#444" fontFamily="Liberation Sans">{p.payload.value}</text>
    </g>
  );
  return (
    <div style={{ position: 'absolute', left: l, top: t - 5 }}>
      <ComposedChart width={w + 22} height={h + 12} margin={{ top: 5, left: 0, right: 21, bottom: 7 }} data={major.map((m) => ({ x: 0, y: m }))}>
        <XAxis type="number" dataKey="x" domain={[0, 1]} hide />
        <YAxis type="number" dataKey="y" orientation="right" domain={[0, zMax]} ticks={major} interval={0} width={1} axisLine={false} tickLine={false} tick={tick} allowDataOverflow />
        {paletteColors.map((c, i) => (
          <ReferenceArea key={c} x1={0} x2={1} y1={i * step} y2={Math.min(zMax, (i + 1) * step)} fill={c} fillOpacity={1} stroke="none" ifOverflow="visible" />
        ))}
        <ReferenceLine x={1} stroke="#000" strokeWidth={1.5} ifOverflow="visible" />
      </ComposedChart>
    </div>
  );
}

const Sub = ({ a, s, b }: { a: string; s: string; b: string }) => (
  <span>{a}<span style={{ fontSize: 6.5, position: 'relative', top: 2 }}>{s}</span>{b}</span>
);

function buildA3A2() {
  const cells: { x: number; y: number; n: number }[] = [];
  const add = (cx: number, cy: number, n: number) => cells.push({ x: cx * 50 + 25, y: cy * 50 + 25, n });
  a3a2SparseRows.forEach(([y, ...xs]) => xs.forEach((x) => add(x, y * 2, 1)));
  a3a2SparseOdd.forEach(([y, ...xs]) => xs.forEach((x) => add(x, y, 1)));
  a3a2Fringe.forEach(([c, ...ys]) => ys.forEach((y) => add(c, y, 2)));
  a3a2Mid.forEach(([c, ...ys]) => ys.forEach((y) => add(c, y, 3)));
  a3a2Core.forEach(([c, ...ys]) => ys.forEach((y) => add(c, y, 6)));
  a3a2LowerFringe.forEach(([c, ...ys]) => ys.forEach((y) => add(c, y, 3)));
  a3a2Bright.forEach(([n, x, ...ys]) => ys.forEach((y) => add(x, y, n)));
  return cells;
}

function buildE3A3() {
  const cells: { x: number; y: number; n: number }[] = [];
  const add = (cx: number, cy: number, n: number) => cells.push({ x: cx * 5 + 2.5, y: cy * 50 + 25, n });
  e3a3SparseRows.forEach(([y, ...xs]) => xs.forEach((x) => add(x, y, 1)));
  e3a3Haze.forEach(([c, ...ys]) => ys.forEach((y) => add(c, y, 2)));
  e3a3Blue.forEach(([c, n, ...ys]) => ys.forEach((y) => add(c, y, n)));
  e3a3EdgeRuns.forEach(([c, lo, hi]) => {
    for (let y = lo; y <= hi; y++) add(c, y, 6);
  });
  e3a3MainRuns.forEach(([c, lo, hi, n]) => {
    for (let y = lo; y <= hi; y++) add(c, y, n);
  });
  e3a3Speckles.forEach(([n, x, y]) => add(x, y, n));
  return cells;
}

const fA1: Frame = { l: 55, t: 35, w: 415, h: 233, xd: [0, 2500], yd: [0, 304] };
const fA2: Frame = { l: 606.7, t: 35, w: 415, h: 233.7, xd: [0, 2500], yd: [0, 301] };
const fA3: Frame = { l: 1156.7, t: 35, w: 415.3, h: 234, xd: [0, 5000], yd: [0, 301] };
const fT3: Frame = { l: 54.5, t: 345, w: 416.5, h: 234, xd: [0, 2000], yd: [0, 197.5] };
const fT1: Frame = { l: 606, t: 345, w: 416, h: 234, xd: [-10, 10], yd: [0, 581.6] };
const fT2: Frame = { l: 1156.7, t: 345, w: 415.3, h: 234, xd: [-10, 10], yd: [0, 1612] };
const fAA: Frame = { l: 53, t: 655, w: 410, h: 234, xd: [0, 5000], yd: [0, 5000] };
const fEA: Frame = { l: 606, t: 655, w: 408, h: 234, xd: [0, 500], yd: [0, 5000] };
const fE3: Frame = { l: 1156.7, t: 655, w: 415.3, h: 234, xd: [0, 500], yd: [0, 227.8] };

const noteStyle: React.CSSProperties = { position: 'absolute', fontFamily: 'Liberation Sans', fontWeight: 700, color: '#ff0000', whiteSpace: 'nowrap', lineHeight: '44px', height: 44, transform: 'translateY(-50%)' };

export default function App() {
  return (
    <div style={{ position: 'absolute', left: 0, top: 0, width: 1585, height: 911, overflow: 'hidden', background: '#fff', filter: 'blur(0.7px)' }}>
      <Plot f={fA1} title="#105173-175: A1" titleX={262} titleY={15.5} xMajor={a1Major} xMinor={100} yMajor={y300Major} yMinor={10}
        data={hist(a1Counts, 0, 20)} redLine={[[73, 30], [73, 272]]} arrows={[[[278, 147], [98, 237], [113, 218], [122, 238]]]}
        xTitle={<Sub a="A" s="1" b=" / mV" />} />
      <Plot f={fA2} title="#105173-175: A2" titleX={812} titleY={15} xMajor={a1Major} xMinor={100} yMajor={y300Major} yMinor={10}
        data={hist(a2Counts, 0, 20)} redLine={[[632.7, 30], [632.7, 272]]} xTitle={<Sub a="A" s="2" b=" / mV" />} />
      <Plot f={fA3} title="#105173-175: A3" titleX={1362} titleY={15} xMajor={a3Major} xMinor={100} yMajor={y300Major} yMinor={10}
        data={hist(a3Counts, 0, 40)} redLine={[[1177, 30], [1177, 272]]} xTitle={<Sub a="A" s="3" b=" / mV" />} />
      <Plot f={fT3} title="#105173-175: T3-T03" titleX={260} titleY={326} xMajor={tofMajor} xMinor={50} yMajor={t3YMajor} yMinor={5}
        data={hist(t3Counts, 0, 16)} xTitle={<Sub a="TOF" s="3" b=" / ns" />} />
      <Plot f={fT1} title="#105173-175: T1-T3" titleX={812} titleY={326} xMajor={dtMajor} xMinor={0.5} yMajor={t1YMajor} yMinor={20}
        data={hist(t1Counts, -10, 0.2)} redBox={[0, 6.9, 10, 575]} xTitle={<Sub a="t" s="1" b="-t₃ / ns" />} />
      <Plot f={fT2} title="#105173-175: T2-T3" titleX={1362} titleY={326} xMajor={dtMajor} xMinor={0.5} yMajor={t2YMajor} yMinor={50}
        data={hist(t2Counts, -10, 0.2)} redBox={[2.78, 6.92, 27, 1592]} xTitle={<Sub a="t" s="2" b="-t₃ / ns" />} />
      <Plot f={fAA} title="#105173-175: A3 - A2" titleX={257} titleY={636} xMajor={a3Major} xMinor={100} yMajor={a3Major} yMinor={100}
        cells={buildA3A2()} cellW={4.1} cellH={2.4} zMax={27}
        arrows={[[[201, 691], [155, 766], [157, 745], [176, 753]], [[424, 767], [379, 842], [381, 818], [399, 828]]]}
        xTitle={<Sub a="A" s="3" b=" / mV" />} yTitle={<Sub a="A" s="2" b=" / mV" />} />
      <Palette l={466} t={657} w={23} h={232} zMax={27} major={[0, 5, 10, 15, 20, 25]} />
      <Plot f={fEA} title="#105173-175: E3 - A3" titleX={808} titleY={636} xMajor={e3Major} xMinor={10} yMajor={a3Major} yMinor={100}
        cells={buildE3A3()} cellW={4.1} cellH={2.4} zMax={21} arrows={[[[818, 843], [715, 723], [722, 746], [737, 732]]]}
        xTitle={<Sub a="E" s="s" b=" / MeV" />} yTitle={<Sub a="A" s="3" b=" / mV" />} />
      <Palette l={1017} t={657} w={23} h={232} zMax={21} major={[0, 2, 4, 6, 8, 10, 12, 14, 16, 18, 20]} />
      <Plot f={fE3} title="#105173-175: E3" titleX={1362} titleY={636} xMajor={e3Major} xMinor={10} yMajor={e3YMajor} yMinor={5}
        data={hist(e3Counts, 0, 4)} xTitle={<Sub a="E" s="s" b=" / MeV" />} />

      <div style={{ ...noteStyle, left: 169, top: 117, fontSize: 37 }}>loss of events ?</div>
      <div style={{ ...noteStyle, left: 221, top: 690, fontSize: 37 }}>d ?</div>
      <div style={{ ...noteStyle, left: 421, top: 738, fontSize: 38 }}>p</div>
      <div style={{ ...noteStyle, left: 736, top: 862, fontSize: 37 }}>non-linearity ?</div>
    </div>
  );
}
